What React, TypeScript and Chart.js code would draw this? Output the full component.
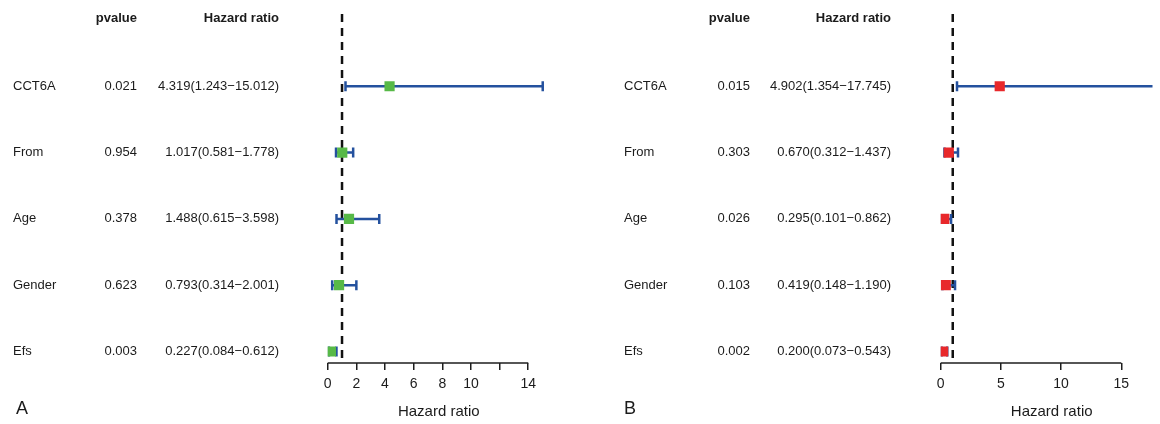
import React, { useEffect, useRef } from 'react';
import { Chart, registerables } from 'chart.js';

Chart.register(...registerables);

const FONT = '"Liberation Sans", Arial, Helvetica, sans-serif';
const TEXT = '#1b1b1b';
const CI_COLOR = '#24519e';
const AXIS_COLOR = '#1e1e1e';

// Shared row names (top to bottom)
const rowLabels = ['CCT6A', 'From', 'Age', 'Gender', 'Efs'];

// Panel A
const pvalA = ['0.021', '0.954', '0.378', '0.623', '0.003'];
const hrA = [4.319, 1.017, 1.488, 0.793, 0.227];
const lowA = [1.243, 0.581, 0.615, 0.314, 0.084];
const highA = [15.012, 1.778, 3.598, 2.001, 0.612];
const ticksA = [0, 2, 4, 6, 8, 10, 12, 14];
const tickLabelsA = ['0', '2', '4', '6', '8', '10', '', '14'];

// Panel B
const pvalB = ['0.015', '0.303', '0.026', '0.103', '0.002'];
const hrB = [4.902, 0.67, 0.295, 0.419, 0.2];
const lowB = [1.354, 0.312, 0.101, 0.148, 0.073];
const highB = [17.745, 1.437, 0.862, 1.19, 0.543];
const ticksB = [0, 5, 10, 15];
const tickLabelsB = ['0', '5', '10', '15'];

const REF_LINE = 1;
const Y_MIN = -1.09;
const Y_MAX = 4.173;
const HEADER_ROW = -1.02;

type PanelProps = {
  letter: string;
  pvals: string[];
  hr: number[];
  low: number[];
  high: number[];
  ticks: number[];
  tickLabels: string[];
  xMax: number;
  padLeft: number;
  markerColor: string;
  labelX: number;
  pvalX: number;
  hrX: number;
  letterX: number;
  titleX: number;
};

function fmt(h: number, l: number, u: number) {
  return `${h.toFixed(3)}(${l.toFixed(3)}\u2212${u.toFixed(3)})`;
}

function Panel(p: PanelProps) {
  const ref = useRef<HTMLCanvasElement>(null);
  useEffect(() => {
    const canvas = ref.current;
    if (!canvas) return;

    const markers = {
      type: 'scatter' as const,
      data: p.hr.map((v, i) => ({ x: v, y: i })),
      pointStyle: 'rect',
      pointRadius: 7.2,
      pointBorderWidth: 0,
      backgroundColor: p.markerColor,
      borderColor: p.markerColor,
      order: 0,
    };
    const cis = rowLabels.map((_, i) => ({
      type: 'scatter' as const,
      data: [
        { x: p.low[i], y: i },
        { x: p.high[i], y: i },
      ],
      showLine: true,
      borderColor: CI_COLOR,
      borderWidth: 2.5,
      pointStyle: 'line',
      pointRotation: 90,
      pointRadius: 5,
      pointBorderWidth: 2.5,
      pointBorderColor: CI_COLOR,
      pointBackgroundColor: CI_COLOR,
      order: 1,
    }));
    const refLine = {
      type: 'scatter' as const,
      data: [
        { x: REF_LINE, y: Y_MIN },
        { x: REF_LINE, y: Y_MAX },
      ],
      showLine: true,
      borderColor: '#111',
      borderWidth: 2.5,
      borderDash: [8, 6],
      pointRadius: 0,
      order: 2,
    };

    const textPlugin = {
      id: 'forestText',
      beforeDatasetsDraw(chart: any) {
        const c = chart.ctx;
        const x = chart.scales.x;
        c.save();
        c.strokeStyle = AXIS_COLOR;
        c.lineWidth = 1.5;
        c.beginPath();
        c.moveTo(x.getPixelForValue(p.ticks[0]), chart.chartArea.bottom);
        c.lineTo(x.getPixelForValue(p.ticks[p.ticks.length - 1]), chart.chartArea.bottom);
        c.stroke();
        c.restore();
      },
      afterDraw(chart: any) {
        const c = chart.ctx;
        const y = chart.scales.y;
        c.save();
        c.fillStyle = TEXT;
        c.textBaseline = 'middle';
        const hy = y.getPixelForValue(HEADER_ROW);
        c.font = `bold 13px ${FONT}`;
        c.textAlign = 'right';
        c.fillText('pvalue', p.pvalX, hy);
        c.fillText('Hazard ratio', p.hrX, hy);
        c.font = `13px ${FONT}`;
        rowLabels.forEach((lab, i) => {
          const py = y.getPixelForValue(i);
          c.textAlign = 'left';
          c.fillText(lab, p.labelX, py);
          c.textAlign = 'right';
          c.fillText(p.pvals[i], p.pvalX, py);
          c.fillText(fmt(p.hr[i], p.low[i], p.high[i]), p.hrX, py);
        });
        c.textAlign = 'center';
        c.font = `15px ${FONT}`;
        c.fillText('Hazard ratio', p.titleX, 411.5);
        c.textAlign = 'left';
        c.font = `18px ${FONT}`;
        c.fillText(p.letter, p.letterX, 409.5);
        c.restore();
      },
    };

    const chart = new Chart(canvas, {
      type: 'scatter',
      data: { datasets: [markers, ...cis, refLine] as any },
      options: {
        animation: false,
        responsive: false,
        events: [],
        layout: { padding: { left: p.padLeft, right: 0, top: 14, bottom: 25.2 } },
        plugins: { legend: { display: false }, tooltip: { enabled: false } },
        scales: {
          x: {
            type: 'linear',
            min: 0,
            max: p.xMax,
            afterBuildTicks: (s: any) => {
              s.ticks = p.ticks.map((v) => ({ value: v }));
            },
            border: { display: false },
            grid: {
              display: true,
              drawOnChartArea: false,
              drawTicks: true,
              tickLength: 7,
              color: AXIS_COLOR,
              lineWidth: 1.5,
            },
            ticks: {
              padding: 6,
              color: TEXT,
              font: { family: FONT, size: 14 },
              maxRotation: 0,
              autoSkip: false,
              callback: (v: any) => {
                const idx = p.ticks.indexOf(Number(v));
                return idx >= 0 ? p.tickLabels[idx] : '';
              },
            },
          },
          y: {
            type: 'linear',
            display: false,
            reverse: true,
            min: Y_MIN,
            max: Y_MAX,
          },
        },
      },
      plugins: [textPlugin],
    });
    return () => chart.destroy();
  }, []);
  return <canvas ref={ref} width={580} height={424} style={{ display: 'block', width: 580, height: 424 }} />;
}

export default function App() {
  return (
    <div style={{ position: 'absolute', left: 0, top: 0, width: 1160, height: 424, display: 'flex', background: '#fff' }}>
      <Panel
        letter="A"
        pvals={pvalA}
        hr={hrA}
        low={lowA}
        high={highA}
        ticks={ticksA}
        tickLabels={tickLabelsA}
        xMax={17.09}
        padLeft={327.7}
        markerColor="#57b947"
        labelX={13}
        pvalX={137}
        hrX={279}
        letterX={16}
        titleX={438.8}
      />
      <Panel
        letter="B"
        pvals={pvalB}
        hr={hrB}
        low={lowB}
        high={highB}
        ticks={ticksB}
        tickLabels={tickLabelsB}
        xMax={17.59}
        padLeft={360.7}
        markerColor="#e8282b"
        labelX={44}
        pvalX={170}
        hrX={311}
        letterX={44}
        titleX={471.7}
      />
    </div>
  );
}
